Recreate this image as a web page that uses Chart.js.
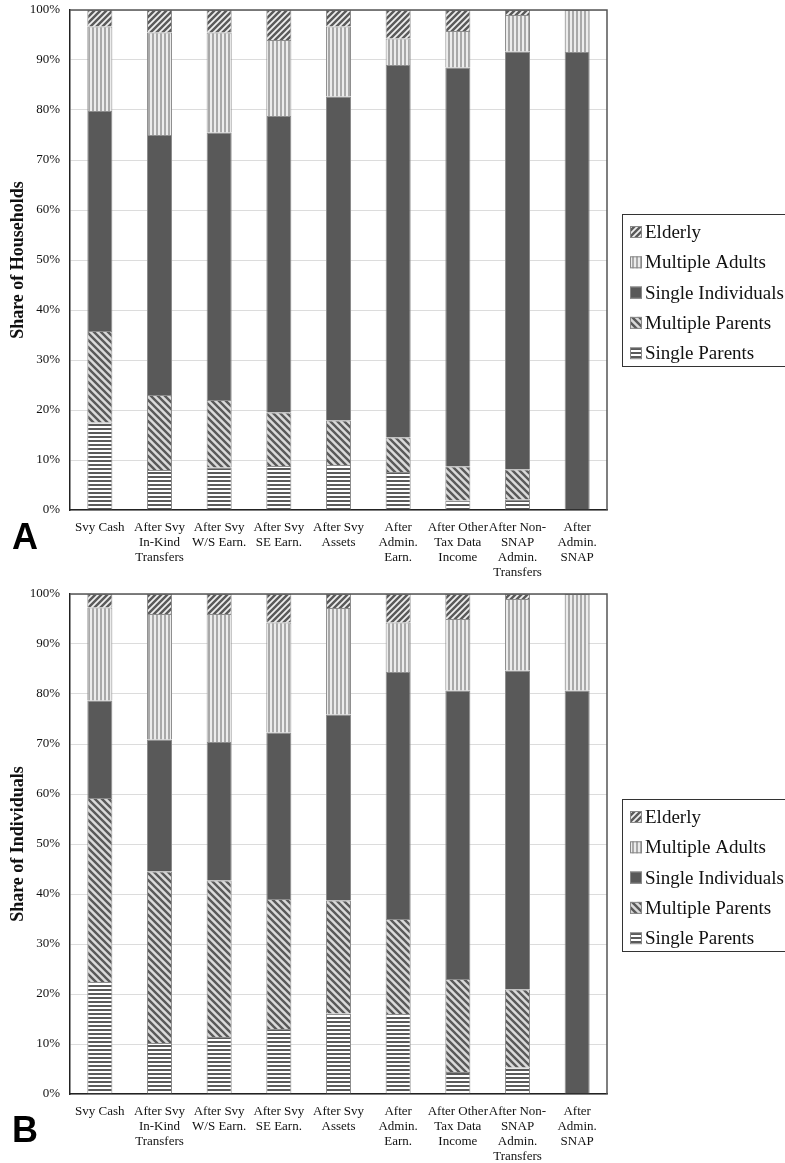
<!DOCTYPE html>
<html lang="en">
<head>
  <meta charset="UTF-8">
  <title>Share of Households / Individuals</title>
  <script src="https://cdn.jsdelivr.net/npm/chart.js"></script>
  <style>
    body {
      margin: 0;
      background: #fff;
      width: 785px;
      height: 1163px;
      position: relative;
      overflow: hidden;
    }
    canvas { position: absolute; left: 0; display: block; }
    #chartA { top: 0; }
    #chartB { top: 585px; }
    .panel {
      position: absolute;
      left: 12px;
      font-family: "Liberation Sans", Arial, sans-serif;
      font-weight: bold;
      font-size: 36px;
      line-height: 36px;
      color: #000;
    }
  </style>
</head>
<body>
  <canvas id="chartA" width="785" height="585"></canvas>
  <canvas id="chartB" width="785" height="578"></canvas>
  <div class="panel" style="top:519px">A</div>
  <div class="panel" style="top:1112px">B</div>

  <script>
    const categories = [
      ['Svy Cash'],
      ['After Svy', 'In-Kind', 'Transfers'],
      ['After Svy', 'W/S Earn.'],
      ['After Svy', 'SE Earn.'],
      ['After Svy', 'Assets'],
      ['After', 'Admin.', 'Earn.'],
      ['After Other', 'Tax Data', 'Income'],
      ['After Non-', 'SNAP', 'Admin.', 'Transfers'],
      ['After', 'Admin.', 'SNAP']
    ];
    const yTickLabels = ['0%', '10%', '20%', '30%', '40%', '50%', '60%', '70%', '80%', '90%', '100%'];

    // panel A: share of households
    const hhSingleParents   = [17.5, 8, 8.5, 8.8, 9, 7.6, 1.9, 2.1, 0];
    const hhMultipleParents = [18.3, 15, 13.5, 10.7, 8.9, 6.9, 6.8, 6, 0];
    const hhSingleIndiv     = [44, 52, 53.5, 59.3, 64.8, 74.5, 79.8, 83.6, 91.6];
    const hhMultipleAdults  = [16.9, 20.5, 20, 15.2, 14, 5.3, 7.3, 7.3, 8.4];
    const hhElderly         = [3.3, 4.5, 4.5, 6, 3.3, 5.7, 4.2, 1, 0];

    // panel B: share of individuals
    const indSingleParents   = [22.4, 10.2, 11.4, 13, 16.1, 16, 4.4, 5.3, 0];
    const indMultipleParents = [36.8, 34.3, 31.3, 26, 22.6, 19, 18.6, 15.6, 0];
    const indSingleIndiv     = [19.5, 26.4, 27.7, 33.3, 37.2, 49.4, 57.7, 63.8, 80.7];
    const indMultipleAdults  = [18.6, 25.1, 25.6, 22, 21.3, 9.9, 14.3, 14.3, 19.3];
    const indElderly         = [2.7, 4, 4, 5.7, 2.8, 5.7, 5, 1, 0];

    const serif = '"Liberation Serif", "Times New Roman", serif';

    function makePattern(kind) {
      const c = document.createElement('canvas');
      const g = c.getContext('2d');
      if (kind === 'hstripe') {
        c.width = 4; c.height = 4;
        g.fillStyle = '#ffffff'; g.fillRect(0, 0, 4, 4);
        g.fillStyle = '#5a5a5a'; g.fillRect(0, 0, 4, 2);
      } else if (kind === 'vstripe') {
        c.width = 4; c.height = 4;
        g.fillStyle = '#ececec'; g.fillRect(0, 0, 4, 4);
        g.fillStyle = '#a9a9a9'; g.fillRect(0, 0, 2, 4);
      } else if (kind === 'back') {
        c.width = 7; c.height = 7;
        g.fillStyle = '#dadada'; g.fillRect(0, 0, 7, 7);
        g.strokeStyle = '#5a5a5a'; g.lineWidth = 2.4;
        g.beginPath();
        g.moveTo(-1, -1); g.lineTo(8, 8);
        g.moveTo(-1, 6); g.lineTo(1, 8);
        g.moveTo(6, -1); g.lineTo(8, 1);
        g.stroke();
      } else if (kind === 'fwd') {
        c.width = 6; c.height = 6;
        g.fillStyle = '#5a5a5a'; g.fillRect(0, 0, 6, 6);
        g.strokeStyle = '#efefef'; g.lineWidth = 1.8;
        g.beginPath();
        g.moveTo(-1, 7); g.lineTo(7, -1);
        g.moveTo(-1, 1); g.lineTo(1, -1);
        g.moveTo(5, 7); g.lineTo(7, 5);
        g.stroke();
      }
      return g.createPattern(c, 'repeat');
    }

    const fills = {
      sp: makePattern('hstripe'),
      mp: makePattern('back'),
      si: '#595959',
      ma: makePattern('vstripe'),
      el: makePattern('fwd')
    };

    const frame = {
      id: 'frame',
      afterDraw(chart) {
        const { ctx, chartArea: a } = chart;
        ctx.save();
        ctx.strokeStyle = '#555';
        ctx.lineWidth = 1.5;
        ctx.beginPath();
        ctx.moveTo(a.left, a.top);
        ctx.lineTo(a.right, a.top);
        ctx.lineTo(a.right, a.bottom);
        ctx.stroke();
        ctx.restore();
      }
    };

    const boxLegend = {
      id: 'boxLegend',
      afterDraw(chart) {
        const ctx = chart.ctx;
        const items = chart.data.datasets.slice().reverse();
        ctx.save();
        ctx.strokeStyle = '#333';
        ctx.lineWidth = 1;
        ctx.strokeRect(622.5, 214.5, 200, 152);
        ctx.font = '19px ' + serif;
        ctx.textBaseline = 'middle';
        items.forEach((ds, i) => {
          const y = 232 + i * 30.3;
          ctx.fillStyle = ds.backgroundColor;
          ctx.fillRect(630, y - 6, 12, 12);
          ctx.strokeStyle = '#888';
          ctx.strokeRect(630.5, y - 5.5, 11, 11);
          ctx.fillStyle = '#111';
          ctx.fillText(ds.label, 645, y + 1);
        });
        ctx.restore();
      }
    };

    function build(id, title, sp, mp, si, ma, el, topPad, xHeight) {
      const series = [
        ['Single Parents', sp, fills.sp],
        ['Multiple Parents', mp, fills.mp],
        ['Single Individuals', si, fills.si],
        ['Multiple Adults', ma, fills.ma],
        ['Elderly', el, fills.el]
      ];
      new Chart(document.getElementById(id), {
        type: 'bar',
        data: {
          labels: categories,
          datasets: series.map(([label, data, bg]) => ({
            label,
            data,
            backgroundColor: bg,
            borderColor: '#8c8c8c',
            borderWidth: 1,
            categoryPercentage: 1,
            barPercentage: 0.42
          }))
        },
        options: {
          responsive: false,
          animation: false,
          layout: { padding: { top: topPad, right: 178, left: 0, bottom: 0 } },
          plugins: { legend: { display: false }, tooltip: { enabled: false } },
          scales: {
            x: {
              stacked: true,
              grid: { display: false, drawTicks: false },
              border: { color: '#222', width: 1.5 },
              ticks: {
                font: { family: serif, size: 13, lineHeight: 1.15 },
                color: '#111',
                padding: 10,
                maxRotation: 0,
                autoSkip: false
              },
              afterFit: s => { s.height = xHeight; }
            },
            y: {
              stacked: true,
              min: 0,
              max: 100,
              ticks: {
                stepSize: 10,
                callback: (v, i) => yTickLabels[i],
                font: { family: serif, size: 13 },
                color: '#111',
                padding: 10
              },
              grid: { color: '#dcdcdc', drawTicks: false },
              border: { color: '#222', width: 1.5 },
              title: {
                display: true,
                text: title,
                color: '#111',
                font: { family: serif, size: 18, weight: 'bold' },
                padding: { top: 8, bottom: 0 }
              },
              afterFit: s => {
                s.width = 70;
                s.paddingTop = 0;
                s.paddingBottom = 0;
              }
            }
          }
        },
        plugins: [frame, boxLegend]
      });
    }

    build('chartA', 'Share of Households', hhSingleParents, hhMultipleParents, hhSingleIndiv, hhMultipleAdults, hhElderly, 10, 75);
    build('chartB', 'Share of Individuals', indSingleParents, indMultipleParents, indSingleIndiv, indMultipleAdults, indElderly, 9, 69);
  </script>
</body>
</html>
